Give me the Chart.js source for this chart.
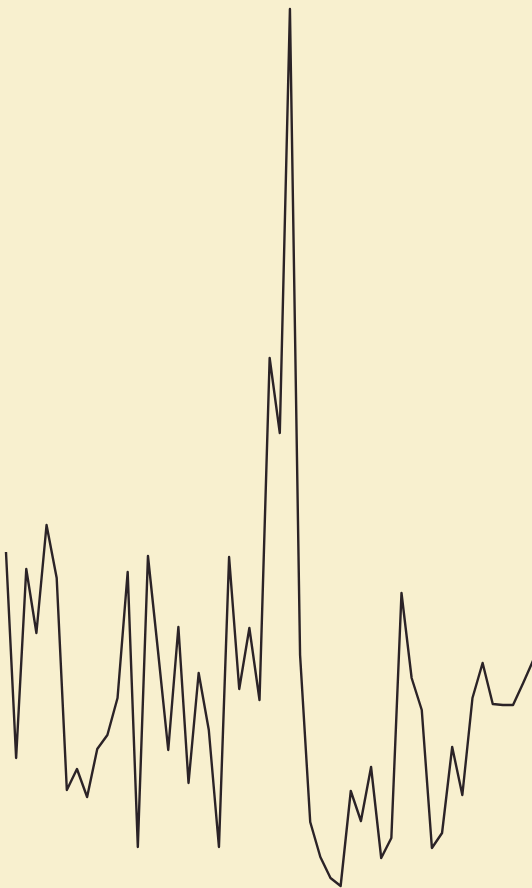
<!DOCTYPE html>
<html>
<head>
<meta charset="utf-8">
<script src="https://cdn.jsdelivr.net/npm/chart.js@4/dist/chart.umd.min.js"></script>
<style>
  html, body { margin: 0; padding: 0; background: #f8f0cf; }
  canvas { display: block; }
</style>
</head>
<body>
<canvas id="curveChart" width="532" height="888"></canvas>
<script>
// Readings, one per step (height of the curve above the bottom edge, arbitrary units)
const steps = [0, 1, 2, 3, 4, 5, 6, 7, 8, 9, 10, 11, 12, 13, 14, 15, 16, 17, 18, 19, 20, 21, 22, 23, 24, 25, 26,
    27, 28, 29, 30, 31, 32, 33, 34, 35, 36, 37, 38, 39, 40, 41, 42, 43, 44, 45, 46, 47, 48, 49, 50, 51, 52];
const readings = [33.6, 13.0, 31.9, 25.5, 36.3, 31.0, 9.8, 11.9, 9.1, 13.9, 15.3, 19.0, 31.6, 4.1, 33.2, 23.6,
    13.8, 26.1, 10.5, 21.5, 15.8, 4.1, 33.1, 19.9, 26.0, 18.8, 53.0, 45.5, 87.9, 23.3, 6.6, 3.1, 1.0, 0.2,
    9.7, 6.7, 12.1, 3.0, 5.0, 29.5, 21.0, 17.8, 4.0, 5.5, 14.1, 9.3, 19.0, 22.5, 18.4, 18.3, 18.3, 20.5, 22.8];

const points = steps.map((s, i) => ({ x: s, y: readings[i] }));

const ctx = document.getElementById('curveChart').getContext('2d');
const curveChart = new Chart(ctx, {
    type: 'line',
    data: {
        datasets: [{
            data: points,
            borderColor: '#2b2327',
            borderWidth: 2.4,
            borderJoinStyle: 'round',
            pointRadius: 0,
            tension: 0,
            fill: false
        }]
    },
    options: {
        responsive: false,
        animation: false,
        layout: { padding: 0 },
        plugins: {
            legend: { display: false },
            tooltip: { enabled: false }
        },
        scales: {
            x: { type: 'linear', min: -0.59, max: 51.87, display: false },
            y: { min: 0, max: 88.8, display: false }
        }
    }
});
</script>
</body>
</html>
